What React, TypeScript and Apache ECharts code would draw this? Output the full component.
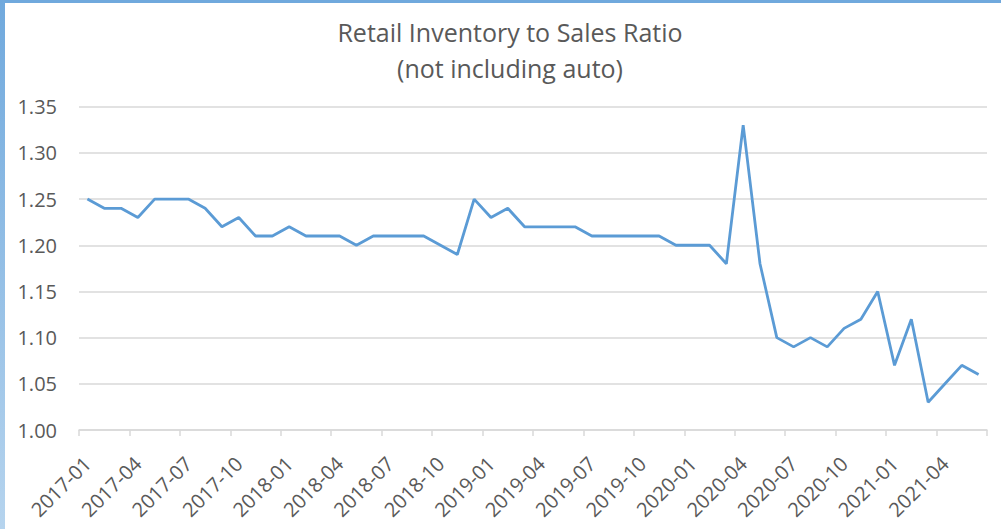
import React, { useEffect, useRef } from "react";
import * as echarts from "echarts";

const months: string[] = [
  "2017-01","2017-02","2017-03","2017-04","2017-05","2017-06","2017-07","2017-08","2017-09","2017-10","2017-11","2017-12",
  "2018-01","2018-02","2018-03","2018-04","2018-05","2018-06","2018-07","2018-08","2018-09","2018-10","2018-11","2018-12",
  "2019-01","2019-02","2019-03","2019-04","2019-05","2019-06","2019-07","2019-08","2019-09","2019-10","2019-11","2019-12",
  "2020-01","2020-02","2020-03","2020-04","2020-05","2020-06","2020-07","2020-08","2020-09","2020-10","2020-11","2020-12",
  "2021-01","2021-02","2021-03","2021-04","2021-05","2021-06",
];

const ratio: number[] = [
  1.25, 1.24, 1.24, 1.23, 1.25, 1.25, 1.25, 1.24, 1.22, 1.23, 1.21, 1.21,
  1.22, 1.21, 1.21, 1.21, 1.20, 1.21, 1.21, 1.21, 1.21, 1.20, 1.19, 1.25,
  1.23, 1.24, 1.22, 1.22, 1.22, 1.22, 1.21, 1.21, 1.21, 1.21, 1.21, 1.20,
  1.20, 1.20, 1.18, 1.33, 1.18, 1.10, 1.09, 1.10, 1.09, 1.11, 1.12, 1.15,
  1.07, 1.12, 1.03, 1.05, 1.07, 1.06,
];

const titleLines: string[] = ["Retail Inventory to Sales Ratio", "(not including auto)"];

const FONT = "'Open Sans', 'Noto Sans', sans-serif";
const TEXT = "#595959";

export default function App() {
  const ref = useRef<HTMLDivElement>(null);
  useEffect(() => {
    document.body.style.margin = "0";
    if (!ref.current) return;
    const chart = echarts.init(ref.current, null, { renderer: "svg" });
    chart.setOption({
      animation: false,
      backgroundColor: "#ffffff",
      title: {
        text: titleLines.join("\n"),
        left: 505,
        top: 9,
        textAlign: "center",
        textStyle: {
          fontFamily: FONT,
          fontSize: 25,
          fontWeight: "normal",
          color: TEXT,
          lineHeight: 36,
        },
      },
      graphic: [
        {
          type: "rect",
          shape: { x: 0, y: 0, width: 1001, height: 3 },
          style: { fill: "#70a9dd" },
          silent: true,
        },
        {
          type: "rect",
          shape: { x: 0, y: 0, width: 5, height: 529 },
          style: {
            fill: new echarts.graphic.LinearGradient(0, 0, 0, 1, [
              { offset: 0, color: "#70a9dd" },
              { offset: 1, color: "#b6d4ee" },
            ]),
          },
          silent: true,
        },
      ],
      grid: { left: 79, right: 14, top: 106.7, bottom: 99, containLabel: false },
      xAxis: {
        type: "category",
        data: months,
        boundaryGap: true,
        axisLine: { show: true, lineStyle: { color: "#d9d9d9", width: 1.5 } },
        axisTick: { show: true, interval: 2, length: 6, lineStyle: { color: "#d9d9d9", width: 1.5 } },
        axisLabel: {
          interval: 2,
          rotate: 45,
          fontFamily: FONT,
          fontSize: 20,
          color: TEXT,
          margin: 30,
        },
        splitLine: { show: false },
      },
      yAxis: {
        type: "value",
        min: 1.0,
        max: 1.35,
        interval: 0.05,
        axisLine: { show: false },
        axisTick: { show: false },
        axisLabel: {
          formatter: (v: number) => v.toFixed(2),
          fontFamily: FONT,
          fontSize: 20,
          color: TEXT,
          margin: 22,
        },
        splitLine: { lineStyle: { color: "#d9d9d9", width: 1.5 } },
      },
      series: [
        {
          type: "line",
          data: ratio,
          symbol: "none",
          lineStyle: { color: "#5b9bd5", width: 2.8 },
        },
      ],
    });
    return () => chart.dispose();
  }, []);
  return <div ref={ref} style={{ width: 1001, height: 529 }} />;
}
